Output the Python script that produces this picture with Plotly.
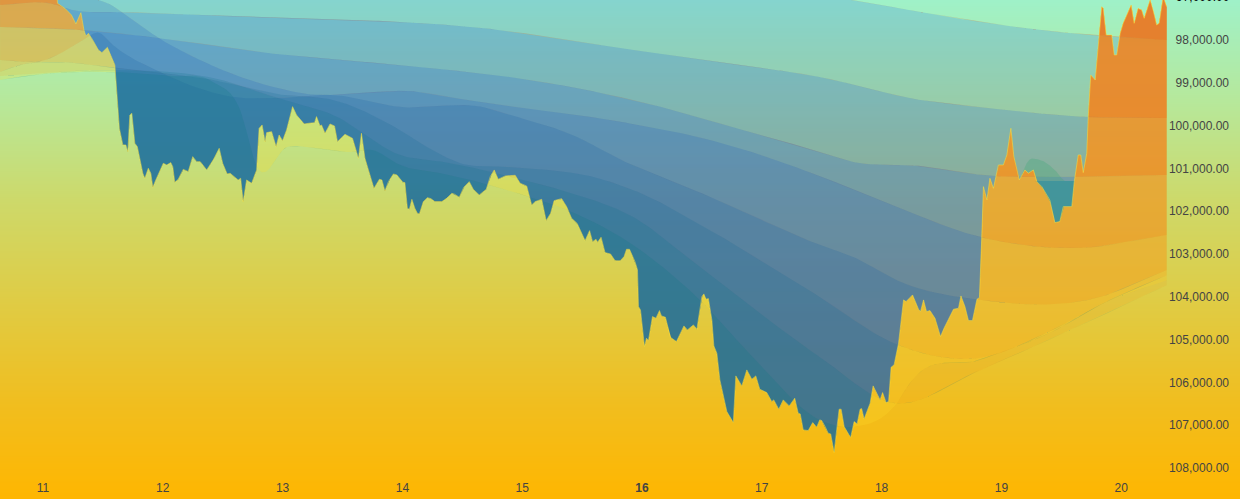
import numpy as np
import plotly.graph_objects as go

# Hours since the start of day 11, and price
price_hours = [-8.6,2.7,2.9,4.4,5.7,6.6,7.6,8.2,8.6,9.1,9.9,11.1,11.8,12.9,14.4,14.8,15.3,16.0,16.6,17.0,17.4,17.8,18.4,18.9,20.0,20.4,21.1,21.6,22.0,22.6,24.1,24.8,25.6,26.0,26.4,27.1,28.1,29.1,30.0,30.8,31.5,32.8,34.1,35.3,36.0,36.9,37.5,39.1,39.6,40.1,40.8,41.8,42.8,43.3,43.9,44.5,44.8,45.8,46.7,47.3,48.0,48.8,50.0,50.8,52.3,53.2,54.4,54.8,55.5,55.8,56.5,57.5,58.4,59.0,60.5,62.0,63.2,63.8,64.5,66.3,67.4,67.9,68.5,69.2,70.2,70.9,72.1,72.5,73.0,73.4,73.9,74.5,75.0,75.4,76.2,77.0,77.7,78.5,79.9,80.9,81.9,82.5,83.4,84.3,85.4,86.2,87.4,88.8,89.6,90.4,91.2,92.6,94.6,95.6,96.9,97.9,98.6,99.9,100.8,101.7,102.4,103.9,104.9,105.9,107.0,108.6,109.5,110.1,110.8,111.1,111.8,112.6,113.7,114.6,115.6,116.4,116.9,117.5,118.6,119.1,119.3,119.7,120.5,120.9,121.3,122.1,122.8,123.5,123.9,124.7,125.7,126.9,128.4,129.1,130.3,131.0,132.0,132.4,132.8,133.3,134.0,134.4,135.0,135.6,137.0,138.3,138.8,140.0,141.0,142.0,142.8,143.6,145.0,146.0,146.4,147.4,148.3,149.5,150.6,151.3,151.7,152.3,153.3,154.2,155.0,155.6,156.0,156.7,157.3,157.8,158.5,159.0,159.5,159.9,160.5,161.8,162.5,163.1,163.7,164.0,164.5,165.7,166.3,167.7,168.2,168.9,169.4,169.9,170.5,171.4,172.4,172.9,174.2,175.4,175.8,176.4,177.0,177.7,178.7,179.8,180.5,182.4,183.4,183.9,184.7,185.4,186.2,187.1,187.6,188.1,188.3,188.4,189.1,189.7,190.4,191.4,192.4,193.1,193.9,194.5,195.6,196.7,197.4,198.4,199.1,200.1,201.7,202.7,203.7,204.4,206.1,206.6,207.4,207.9,208.4,209.1,209.4,209.9,210.8,211.6,212.1,212.4,213.0,214.1,214.6,215.1,215.8,216.4,218.0,218.6,219.4,220.1,220.6,221.8,222.4,223.1,223.6,224.4,225.1]
price_values = [96700,96700,97143,97260,97415,97626,97361,97766,97906,97844,97984,98233,98295,98171,98583,99245,100063,100452,100452,100608,99752,99713,100413,100491,101114,101231,100997,101114,101441,101270,100881,100920,100865,100959,101325,101254,101021,101075,100725,100842,100842,101036,100803,100530,100881,101130,101114,101270,101231,101776,101270,101348,101036,100063,99985,100375,100164,100141,100491,100219,100351,100102,99557,99752,99962,99946,99931,99790,100008,99985,100180,99962,100008,100375,100203,100297,100764,100180,100764,101465,101254,101270,101527,101309,101130,101153,101325,101332,101932,101955,101722,101932,102049,102064,101776,101683,101706,101776,101776,101698,101581,101605,101675,101441,101309,101488,101620,101488,101192,101036,101254,101176,101161,101348,101410,101854,101776,101722,102220,102049,101753,101706,101893,102166,102282,102687,102454,102711,102656,102726,102609,102968,102999,103154,103162,103061,102890,102890,103178,103373,104229,104307,105164,104969,105023,104463,104501,104322,104447,104478,104945,105047,104681,104774,104657,104758,103995,103933,104058,104042,104541,105148,105319,105942,106682,106939,105849,106082,105709,105927,105849,106160,106238,106448,106409,106627,106409,106549,106370,106721,106737,107110,107126,106939,107048,106877,106892,107033,107188,107204,107640,107110,106627,106627,107033,107289,106916,106970,106627,106612,106853,106487,106082,106409,106238,106472,106448,105646,105592,105086,104073,104112,103957,104291,104346,104073,104346,104322,104501,104930,104735,104291,104268,103980,104229,104556,104556,104058,104019,102516,101737,101426,101737,101231,101465,100920,100920,100686,100063,100725,101270,101036,101114,101036,101309,101426,101737,102267,102243,101893,101893,101309,100686,100686,101099,100647,99790,98817,98934,97844,97221,97260,97883,97883,98350,98350,97844,97610,97182,97610,97260,97299,97493,97065,97299,97649,97610,96987,97221]

# Eight averaged curves drawn over the price
avg_a_hours = [-8.6,2.8,51.5,111.6,143.6,162.3,175.7,189.1,209.7,225.2]
avg_a_values = [96878,96855,96364,96411,96738,97065,97345,97602,97883,98000]
avg_b_hours = [-8.6,2.8,4.4,16.8,47.5,75.5,91.5,111.6,131.6,155.6,175.7,189.1,209.1,225.2]
avg_b_values = [97182,97182,97252,97345,97485,97602,97766,98116,98467,98864,99401,99588,99798,99821]
avg_c_hours = [-8.6,8.0,23.4,44.9,75.5,97.6,118.2,138.2,155.6,162.3,175.7,188.1,206.7,225.2]
avg_c_values = [97696,97766,97953,98303,98630,98934,99401,100032,100616,100849,100943,101153,101200,101153]
avg_d_hours = [-8.6,2.8,12.8,20.0,22.8,27.4,36.9,51.5,75.5,84.9,117.0,133.6,155.6,169.1,187.7,207.7,225.2]
avg_d_values = [96925,96995,97135,97696,97929,98233,98747,99237,99214,99401,99938,100335,101176,101807,102601,102858,102555]
avg_e_hours = [-8.6,0.4,5.4,8.0,11.4,14.0,23.4,38.1,48.1,58.1,71.5,88.1,95.0,107.0,115.0,134.2,155.6,162.3,172.3,187.7,211.1,225.2]
avg_e_values = [98467,98467,98186,98000,97836,98116,98747,99331,99354,99284,99565,99565,99798,100265,100756,101690,102788,103069,103676,104073,104026,103372]
avg_f_hours = [-8.6,-4.6,3.4,14.0,34.1,48.1,58.1,71.5,76.9,83.5,94.2,111.0,118.2,134.2,155.6,170.3,187.7,202.3,213.7,225.2]
avg_f_values = [98747,98583,98513,98653,98934,99284,99401,100102,100499,100873,100966,101223,101503,102485,104003,105077,105428,104774,104073,103489]
avg_g_hours = [-8.6,14.0,34.1,48.1,58.1,71.5,81.5,96.2,105.0,118.2,131.6,155.6,170.3,187.7,203.7,225.2]
avg_g_values = [98840,98700,98887,99401,99751,100686,100873,101270,101550,102134,103302,105405,106479,105708,104891,103723]
avg_h_hours = [-8.6,-2.0,14.0,25.4,34.1,39.5,42.9,48.9,54.1,62.1,65.9,71.5,81.5,96.2,105.0,118.2,131.6,143.6,155.6,162.3,171.1,173.7,187.7,203.7,211.7,225.2]
avg_h_values = [98934,98817,98747,98840,98981,99635,100966,100499,100522,100616,100569,100919,101153,101620,101971,102788,104073,105591,106876,107040,106479,106012,105475,104727,104190,103606]

# Two short curves seen only during the dip on day 19
dip_arc_hours = [195.7,197.1,199.7,202.7,204.7,206.5]
dip_arc_values = [101270,100873,100803,101036,101293,101293]
dip_flat_hours = [198.8,206.6]
dip_flat_values = [101293,101293]

day_ticks = [0,24,48,72,96,120,144,168,192,216]
day_labels = ["11","12","13","14","15","<b>16</b>","17","18","19","20"]
price_ticks = [98000,99000,100000,101000,102000,103000,104000,105000,106000,107000,108000]
price_labels = ["98,000.00","99,000.00","100,000.00","101,000.00","102,000.00","103,000.00","104,000.00","105,000.00","106,000.00","107,000.00","108,000.00"]

backdrop_prices = [96000,97065,99401,101737,104073,106409,108721,110000]
backdrop_colors = ["#9ff1c8","#9ff1c8","#b6e89b","#cdd96a","#dfcc45","#f0be20","#ffb600","#ffb600"]

blue_fills = ["rgba(30,100,230,0.2)","rgba(30,95,220,0.2)","rgba(30,90,210,0.2)","rgba(30,90,190,0.2)",
              "rgba(25,95,165,0.2)","rgba(20,105,150,0.2)","rgba(15,115,140,0.2)","rgba(10,120,130,0.2)"]
orange_fills = ["rgba(235,100,30,0.30)","rgba(240,105,25,0.30)","rgba(245,110,20,0.30)","rgba(245,110,20,0.20)",
                "rgba(245,120,20,0.16)","rgba(245,130,20,0.13)","rgba(245,150,20,0.13)","rgba(255,220,40,0.24)"]
FONT = "Liberation Sans"


def smooth_curve(q, hours, values):
    """Evaluate a read curve as a smooth Hermite line through its read points."""
    h = np.asarray(hours, float)
    v = np.asarray(values, float)
    if len(h) < 3:
        return np.interp(q, h, v)
    m = np.gradient(v, h)
    i = np.clip(np.searchsorted(h, q, side="right") - 1, 0, len(h) - 2)
    w = h[i + 1] - h[i]
    t = (q - h[i]) / w
    return ((2 * t**3 - 3 * t**2 + 1) * v[i] + (t**3 - 2 * t**2 + t) * w * m[i]
            + (-2 * t**3 + 3 * t**2) * v[i + 1] + (t**3 - t**2) * w * m[i + 1])


def band_edges(avg_hours, avg_values):
    """Common grid of price and curve plus their crossings, for the fills."""
    lo, hi = avg_hours[0], min(avg_hours[-1], price_hours[-1])
    grid = np.union1d(price_hours, np.linspace(lo, hi, 300))
    grid = grid[(grid >= lo) & (grid <= hi)]
    p = np.interp(grid, price_hours, price_values)
    a = smooth_curve(grid, avg_hours, avg_values)
    d = p - a
    idx = np.where(d[:-1] * d[1:] < 0)[0]
    cross = grid[idx] + (grid[idx + 1] - grid[idx]) * d[idx] / (d[idx] - d[idx + 1])
    grid = np.union1d(grid, cross)
    return grid, np.interp(grid, price_hours, price_values), smooth_curve(grid, avg_hours, avg_values)


def add_band(fig, hours, values, color, above):
    g, p, a = band_edges(hours, values)
    edge = np.maximum(p, a) if above else np.minimum(p, a)
    fig.add_trace(go.Scatter(
        x=np.concatenate([g, g[::-1]]), y=np.concatenate([edge, a[::-1]]),
        mode="lines", line=dict(width=0), fill="toself", fillcolor=color,
        hoverinfo="skip", showlegend=False,
    ))


fig = go.Figure()

n = len(backdrop_prices)
fig.add_trace(go.Heatmap(
    x=[-30, 260], y=backdrop_prices,
    z=[[i, i] for i in range(n)],
    zsmooth="best", showscale=False, hoverinfo="skip",
    colorscale=[[i / (n - 1), c] for i, c in enumerate(backdrop_colors)],
))

curves = [(avg_a_hours, avg_a_values), (avg_b_hours, avg_b_values), (avg_c_hours, avg_c_values),
          (avg_d_hours, avg_d_values), (avg_e_hours, avg_e_values), (avg_f_hours, avg_f_values),
          (avg_g_hours, avg_g_values), (avg_h_hours, avg_h_values)]
for (h, v), orange in list(zip(curves, orange_fills))[::-1]:
    add_band(fig, h, v, orange, above=False)
for (h, v), blue in zip(curves, blue_fills):
    add_band(fig, h, v, blue, above=True)
add_band(fig, dip_arc_hours, dip_arc_values, "rgba(60,170,120,0.3)", above=True)
add_band(fig, dip_flat_hours, dip_flat_values, "rgba(40,140,160,0.55)", above=True)

fig.add_trace(go.Scatter(
    x=price_hours, y=price_values, mode="lines",
    line=dict(color="rgba(255,228,60,0.5)", width=1),
    hoverinfo="skip", showlegend=False,
))

fig.update_layout(
    width=1240, height=499, margin=dict(l=0, r=0, t=0, b=0),
    paper_bgcolor="#e0c840", plot_bgcolor="#e0c840", showlegend=False,
    font=dict(family=FONT, size=12, color="#000000"),
    xaxis=dict(range=[-8.61, 239.8], tickmode="array", tickvals=day_ticks, ticktext=day_labels,
               showgrid=False, zeroline=False, showline=False, ticks="",
               ticklabelposition="inside", ticklabelstandoff=2, fixedrange=True),
    yaxis=dict(range=[108725, 97065], side="right", tickmode="array", tickvals=price_ticks,
               ticktext=price_labels, showgrid=False, zeroline=False, showline=False, ticks="",
               ticklabelposition="inside", ticklabelstandoff=8, fixedrange=True),
    annotations=[dict(text="97,000.00", xref="paper", yref="paper", x=1232 / 1240, y=1.0056,
                      xanchor="right", yanchor="middle", showarrow=False,
                      font=dict(family=FONT, size=12, color="#000000"))],
)

fig.write_html("out.html", config={"displayModeBar": False},
               post_script="document.body.style.margin='0';document.documentElement.style.overflow='hidden';")
